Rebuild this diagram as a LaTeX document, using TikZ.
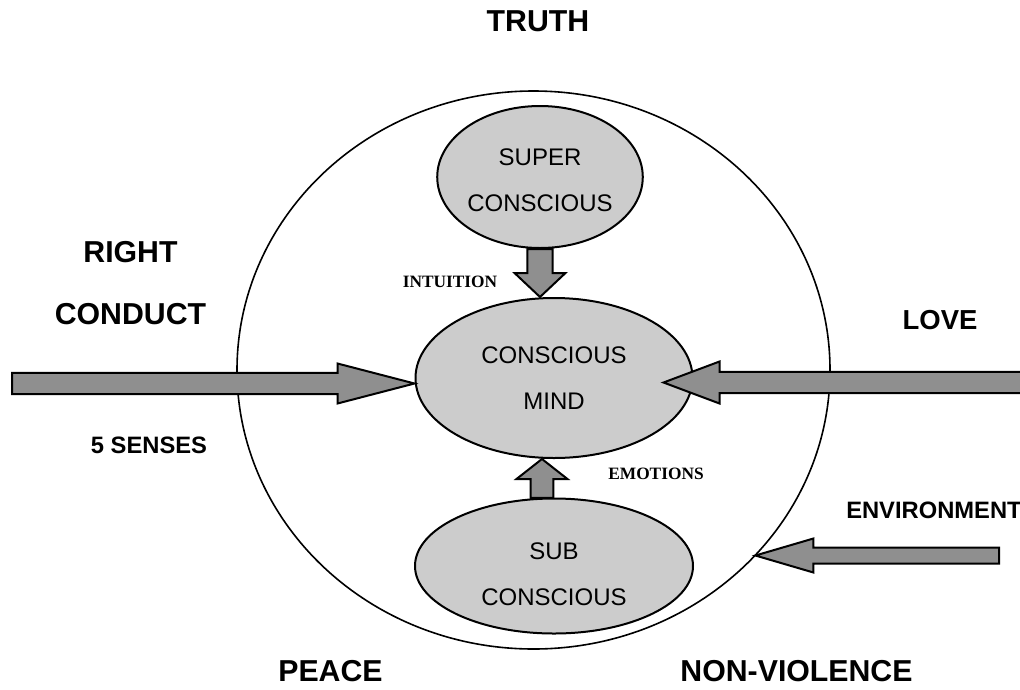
\documentclass[tikz,border=0pt]{standalone}
\usepackage{fontspec}
\setmainfont{Liberation Sans}
\newfontfamily\serifbf{Liberation Serif}
\usepackage{tikz}
\usetikzlibrary{shapes,calc}

\definecolor{mindgray}{gray}{0.8}
\definecolor{arrowgray}{gray}{0.56}

% fat block arrow: {half shaft}{half head}{head length}
\tikzset{
	fat/.style n args={3}{draw=black, line width=1.5pt, fill=arrowgray,
		to path={let \p1=(\tikztostart), \p2=(\tikztotarget),
			\p3=($(\p2)!#3!(\p1)$) in
			($(\p1)!#1!90:(\p2)$) -- ($(\p3)!#1!90:(\p2)$) -- ($(\p3)!#2!90:(\p2)$)
			-- (\p2) -- ($(\p3)!#2!-90:(\p2)$) -- ($(\p3)!#1!-90:(\p2)$)
			-- ($(\p1)!#1!-90:(\p2)$) -- cycle}}
}

\begin{document}
\begin{tikzpicture}[x=0.75pt, y=-0.75pt]

	\tikzstyle{mind}=[ellipse,draw,line width=1.5pt,fill=mindgray,inner sep=0pt,align=center,
		font=\fontsize{18}{34.5}\selectfont]
	\tikzstyle{big}=[inner sep=0pt,align=center,font=\fontsize{22.7}{46.5}\selectfont\bfseries]
	\tikzstyle{small}=[inner sep=0pt,font=\fontsize{17.8}{20}\selectfont\bfseries]
	\tikzstyle{tiny}=[inner sep=0pt,font=\fontsize{13}{15}\selectfont\serifbf\bfseries]

	\useasboundingbox (0,0) rectangle (1020,689);

	\node[ellipse,draw,line width=1.2pt,inner sep=0pt,minimum width=444.75pt,minimum height=418.5pt] (Outer) at (533.5,370) {};
	\node[mind,minimum width=150.75pt,minimum height=106.5pt] (Sup) at (540,177) {\rule{0pt}{17.5pt}SUPER\\CONSCIOUS};
	\node[mind,minimum width=207.75pt,minimum height=120pt] (Mind) at (554,378) {CONSCIOUS\\MIND};
	\node[mind,minimum width=208.5pt,minimum height=101.25pt] (Sub) at (554,566) {\rule{0pt}{25pt}SUB\\CONSCIOUS};

	% the four values
	\node[big] (Truth) at (538,21) {TRUTH};
	\node[big] (Right) at (130.5,283) {RIGHT\\CONDUCT};
	\node[big,font=\fontsize{20.6}{24}\selectfont\bfseries] (Love) at (940,320) {LOVE};
	\node[big] (Peace) at (330.5,671) {PEACE};
	\node[big] (Nonviol) at (796.5,671) {NON-VIOLENCE};

	\node[small] (Senses) at (149,445.5) {5 SENSES};
	\node[small,anchor=west] (Env) at (846,510) {ENVIRONMENT};
	\node[tiny] (Intu) at (450,282) {INTUITION};
	\node[tiny] (Emo) at (656,474) {EMOTIONS};

	\coordinate (sensesin) at (12,383.5);
	\coordinate (lovein) at (1035,382.5);
	\coordinate (envin) at (999,555.5);

	% From outside into the mind
	\draw[fat={7.9pt}{15pt}{57.75pt}] (sensesin) to (sensesin -| Mind.west);
	\draw[fat={7.9pt}{15.75pt}{42pt}] (lovein) to ($(Mind.east |- lovein)+(-30,0)$);
	\draw[fat={6pt}{12.75pt}{43.5pt}] (envin) to (envin -| Outer.-40);

	% Between the three minds
	\draw[fat={9.4pt}{19.1pt}{18pt}] (Sup.south) to (Sup.south |- Mind.north);
	\draw[fat={8.6pt}{19.1pt}{15pt}] (Sub.100) to (Sub.100 |- Mind.south);

\end{tikzpicture}
\end{document}
